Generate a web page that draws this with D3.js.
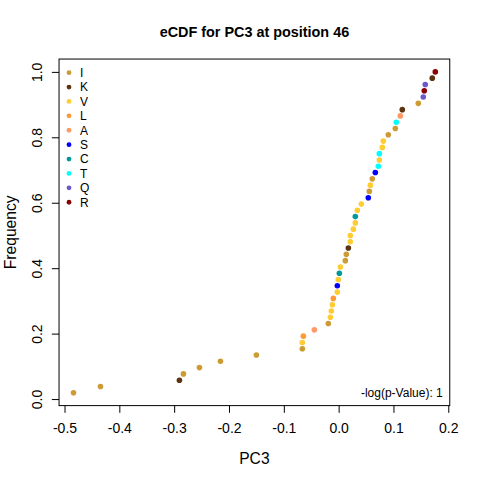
<!DOCTYPE html>
<html>
<head>
<meta charset="utf-8">
<script src="https://cdn.jsdelivr.net/npm/d3@7"></script>
<style>
  body { margin: 0; background: #fff; }
  svg { display: block; font-family: "Liberation Sans", Arial, sans-serif; }
</style>
</head>
<body>
<div id="chart"></div>
<script>
// PC3 values, already in ascending order
const pc3 = [
  -0.4836, -0.4344, -0.2904, -0.2831, -0.2539, -0.2156, -0.1500, -0.0662, -0.0662, -0.0643,
  -0.0443, -0.0188, -0.0151, -0.0133, -0.0115, -0.0097, -0.0024, -0.0024, -0.0005, 0.0013,
  0.0031, 0.0122, 0.0140, 0.0177, 0.0213, 0.0213, 0.0268, 0.0304, 0.0304, 0.0341,
  0.0414, 0.0541, 0.0560, 0.0578, 0.0614, 0.0669, 0.0724, 0.0742, 0.0742, 0.0797,
  0.0815, 0.0906, 0.1034, 0.1052, 0.1125, 0.1161, 0.1453, 0.1544, 0.1562, 0.1580,
  0.1708, 0.1763
];
// residue at each point
const residues = [
  'I','I','K','I','I','I','I','I','V','L',
  'A','I','V','V','V','L','V','S','V','C',
  'V','I','I','K','V','V','V','V','C','V',
  'V','S','I','V','I','S','T','V','T','V',
  'V','I','I','T','A','K','I','Q','R','Q',
  'K','R'
];
const legendKeys = ['I','K','V','L','A','S','C','T','Q','R'];
const legendColors = ['#CD9B33','#5C3310','#FFCC33','#FF9933','#FF9966','#0000FF','#009999','#00FFFF','#6A5ACD','#8B0000'];
const xTicks = [-0.5, -0.4, -0.3, -0.2, -0.1, 0.0, 0.1, 0.2];
const yTicks = [0.0, 0.2, 0.4, 0.6, 0.8, 1.0];
const pLabel = '-log(p-Value): 1';

const W = 480, H = 480;
const plot = { left: 59.04, right: 449.76, top: 59.04, bottom: 405.6 };
const tickFont = 14, labFont = 15.6;

// empirical cdf of the values
const n = pc3.length;
const points = pc3.map((v, i) => ({ x: v, y: (i + 1) / n, res: residues[i] }));

const color = d3.scaleOrdinal().domain(legendKeys).range(legendColors);

// R style 4% padding on both axes
const pad = ([a, b]) => { const r = b - a; return [a - 0.04 * r, b + 0.04 * r]; };
const x = d3.scaleLinear().domain(pad(d3.extent(points, d => d.x))).range([plot.left, plot.right]);
const y = d3.scaleLinear().domain(pad(d3.extent(points, d => d.y))).range([plot.bottom, plot.top]);

const svg = d3.select('#chart').append('svg')
  .attr('width', W).attr('height', H);

svg.append('rect').attr('width', W).attr('height', H).attr('fill', '#fff');

// axes
const xAxis = svg.append('g')
  .attr('transform', `translate(0,${plot.bottom})`)
  .call(d3.axisBottom(x).tickValues(xTicks).tickSize(7.2).tickFormat(d => d.toFixed(1)));
xAxis.select('.domain').remove();
xAxis.selectAll('line').attr('stroke', '#000');
xAxis.selectAll('text')
  .attr('y', 27.1).attr('dy', null)
  .attr('font-size', tickFont).attr('font-family', null).attr('fill', '#000');

const yAxis = svg.append('g')
  .attr('transform', `translate(${plot.left},0)`)
  .call(d3.axisLeft(y).tickValues(yTicks).tickSize(7.2).tickFormat(d => d.toFixed(1)));
yAxis.select('.domain').remove();
yAxis.selectAll('line').attr('stroke', '#000');
yAxis.selectAll('text')
  .attr('x', null).attr('dy', null)
  .attr('transform', 'translate(-16.6,0) rotate(-90)')
  .attr('text-anchor', 'middle')
  .attr('font-size', tickFont).attr('font-family', null).attr('fill', '#000');

// box
svg.append('rect')
  .attr('x', plot.left).attr('y', plot.top)
  .attr('width', plot.right - plot.left).attr('height', plot.bottom - plot.top)
  .attr('fill', 'none').attr('stroke', '#000').attr('stroke-width', 1);

// points
svg.append('g').selectAll('circle')
  .data(points)
  .join('circle')
  .attr('cx', d => x(d.x))
  .attr('cy', d => y(d.y))
  .attr('r', 2.8)
  .attr('fill', d => color(d.res));

// legend
const legend = svg.append('g').attr('transform', `translate(69,${plot.top + 13.6})`);
const li = legend.selectAll('g').data(legendKeys).join('g')
  .attr('transform', (d, i) => `translate(0,${i * 14.4})`);
li.append('circle').attr('r', 2.4).attr('fill', d => color(d));
li.append('text').attr('x', 11).attr('y', 4.3)
  .attr('font-size', 12).text(d => d);

// p-value note
svg.append('text')
  .attr('x', plot.right - 7).attr('y', 397.3)
  .attr('text-anchor', 'end').attr('font-size', 12)
  .text(pLabel);

// titles
svg.append('text')
  .attr('x', (plot.left + plot.right) / 2).attr('y', 36.6)
  .attr('text-anchor', 'middle').attr('font-size', 14.4).attr('font-weight', 'bold')
  .text('eCDF for PC3 at position 46');

svg.append('text')
  .attr('x', (plot.left + plot.right) / 2).attr('y', 464)
  .attr('text-anchor', 'middle').attr('font-size', labFont)
  .text('PC3');

svg.append('text')
  .attr('transform', `translate(15.5,${(plot.top + plot.bottom) / 2}) rotate(-90)`)
  .attr('text-anchor', 'middle').attr('font-size', labFont)
  .text('Frequency');
</script>
</body>
</html>
